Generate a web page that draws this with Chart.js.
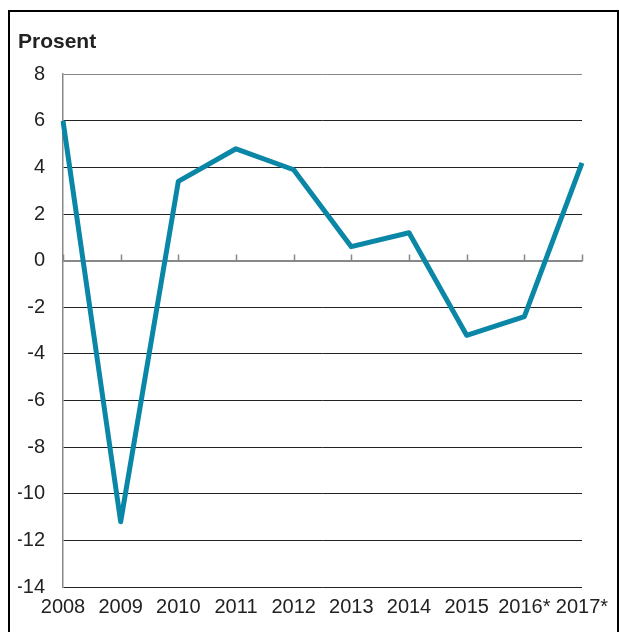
<!DOCTYPE html>
<html>
<head>
<meta charset="utf-8">
<script src="https://cdn.jsdelivr.net/npm/chart.js@4/dist/chart.umd.min.js"></script>
<style>
  html, body { margin: 0; padding: 0; background: #fff; }
  #wrap { position: relative; width: 619px; height: 632px; overflow: hidden; }
  #frame { position: absolute; left: 8px; top: 10px; width: 607px; height: 640px; border: 2px solid #000; box-sizing: content-box; pointer-events: none; }
  canvas { position: absolute; left: 0; top: 0; }
</style>
</head>
<body>
<div id="wrap">
  <canvas id="c" width="619" height="632"></canvas>
  <div id="frame"></div>
</div>
<script>
const years = ["2008", "2009", "2010", "2011", "2012", "2013", "2014", "2015", "2016*", "2017*"];
const growth = [6.0, -11.2, 3.4, 4.8, 3.9, 0.6, 1.2, -3.2, -2.4, 4.2];
const yTicks = [8, 6, 4, 2, 0, -2, -4, -6, -8, -10, -12, -14];
const titleText = "Prosent";

const FONT = "'Liberation Sans', Arial, sans-serif";

const zeroTicks = {
  id: 'zeroTicks',
  beforeDatasetsDraw(chart) {
    const { ctx, scales: { x, y } } = chart;
    const y0 = Math.round(y.getPixelForValue(0)) + 0.5;
    ctx.save();
    ctx.strokeStyle = '#888';
    ctx.lineWidth = 1.5;
    ctx.beginPath();
    for (let i = 0; i < years.length; i++) {
      const px = Math.round(x.getPixelForTick(i)) + 0.5;
      ctx.moveTo(px, y0);
      ctx.lineTo(px, y0 - 7);
    }
    ctx.stroke();
    ctx.restore();
  }
};

new Chart(document.getElementById('c'), {
  type: 'line',
  data: {
    labels: years,
    datasets: [{
      data: growth,
      borderColor: '#0a86a6',
      borderWidth: 5,
      tension: 0,
      pointRadius: 0,
      borderJoinStyle: 'round',
      fill: false
    }]
  },
  options: {
    responsive: false,
    animation: false,
    devicePixelRatio: 1,
    layout: { padding: { left: 18, right: 37, top: 20, bottom: 5 } },
    plugins: {
      legend: { display: false },
      tooltip: { enabled: false },
      title: {
        display: true,
        text: titleText,
        align: 'start',
        color: '#222',
        font: { family: FONT, size: 21, weight: 'bold', lineHeight: 1.2 },
        padding: { top: 10, bottom: 19 }
      }
    },
    scales: {
      x: {
        offset: false,
        grid: { display: false, drawTicks: false },
        border: { display: false },
        ticks: {
          color: '#222',
          font: { family: FONT, size: 20 },
          padding: 8,
          maxRotation: 0,
          autoSkip: false
        }
      },
      y: {
        min: -14,
        max: 8,
        afterBuildTicks(scale) { scale.ticks = yTicks.map(v => ({ value: v })); },
        afterFit(scale) { scale.width = 45; },
        grid: {
          drawTicks: false,
          color: (c) => (c.tick && (c.tick.value === 0 || c.tick.value === 8)) ? '#888' : '#222',
          lineWidth: (c) => (c.tick && c.tick.value === 0) ? 2 : 1
        },
        border: { display: true, color: '#888', width: 1.5 },
        ticks: {
          color: '#222',
          font: { family: FONT, size: 20 },
          padding: 18
        }
      }
    }
  },
  plugins: [zeroTicks]
});
</script>
</body>
</html>
